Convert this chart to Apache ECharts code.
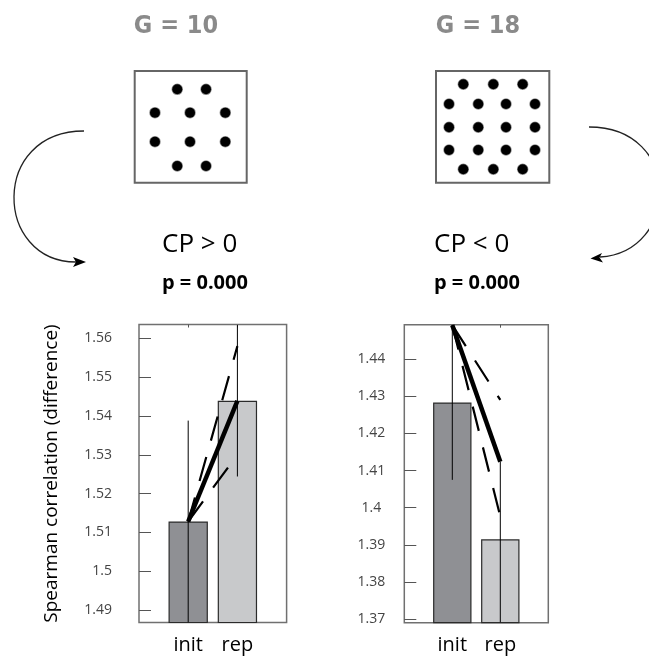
<!DOCTYPE html>
<html>
<head>
<meta charset="utf-8">
<script src="https://cdn.jsdelivr.net/npm/echarts@6/dist/echarts.min.js"></script>
<style>
html,body{margin:0;padding:0;background:#fff;}
#chart{width:649px;height:662px;}
</style>
</head>
<body>
<div id="chart"></div>
<script>
// ---- data ----
const categories = ['init', 'rep'];
const leftTicks = [1.49, 1.50, 1.51, 1.52, 1.53, 1.54, 1.55, 1.56];
const rightTicks = [1.37, 1.38, 1.39, 1.40, 1.41, 1.42, 1.43, 1.44];

const leftBars = [1.5128, 1.5439];
const leftErrLow = [1.4868, 1.5244];
const leftErrHigh = [1.5388, 1.5634];
const leftMeanLine = [1.5128, 1.5439];
const leftDashUpper = [1.5128, 1.5580];
const leftDashLower = [1.5128, 1.5300];

const rightBars = [1.4283, 1.3915];
const rightErrLow = [1.4075, 1.3692];
const rightErrHigh = [1.4491, 1.4124];
const rightMeanLine = [1.4491, 1.4124];
const rightDashUpper = [1.4491, 1.4290];
const rightDashLower = [1.4491, 1.3976];

// dot layouts inside the two stimulus boxes (fraction of box, y from bottom)
const g10DotsX = [0.380, 0.637, 0.181, 0.494, 0.809, 0.181, 0.494, 0.809, 0.380, 0.637];
const g10DotsY = [0.836, 0.836, 0.627, 0.627, 0.627, 0.367, 0.367, 0.367, 0.150, 0.150];
const g18DotsX = [0.241, 0.506, 0.765, 0.115, 0.373, 0.618, 0.874, 0.115, 0.373, 0.618, 0.874, 0.115, 0.373, 0.618, 0.874, 0.241, 0.506, 0.765];
const g18DotsY = [0.881, 0.881, 0.881, 0.705, 0.705, 0.705, 0.705, 0.496, 0.496, 0.496, 0.496, 0.293, 0.293, 0.293, 0.293, 0.120, 0.120, 0.120];

// ---- styles ----
const barColors = ['#8f9094', '#c8c9cb'];
const sans = "'Open Sans', 'Liberation Sans', sans-serif";

function pts(vals) { return vals.map((v, i) => [i + 1, v]); }
function errData(lo, hi) { return lo.map((v, i) => [i + 1, v, hi[i]]); }

const chart = echarts.init(document.getElementById('chart'), null, {renderer: 'canvas'});

function valueYAxis(gridIndex, min, max, ticks, align, margin, name) {
  return {
    type: 'value', gridIndex, min, max,
    axisLine: {show: false},
    splitLine: {show: false},
    axisTick: {show: true, inside: true, length: 12, customValues: ticks, lineStyle: {color: '#555', width: 1}},
    axisLabel: {customValues: ticks, color: '#444', fontSize: 14, fontFamily: sans, margin, align,
      formatter: v => String(Math.round(v * 100) / 100)},
    name: name || '',
    nameLocation: 'middle', nameRotate: 90, nameGap: 78,
    nameTextStyle: {color: '#000', fontSize: 19, fontFamily: sans}
  };
}
function catXAxis(gridIndex, position, showLabel) {
  return {
    type: 'value', gridIndex, min: 0, max: 3, position,
    axisLine: {show: false}, splitLine: {show: false},
    axisTick: {show: true, inside: true, length: 3, customValues: [1, 2], lineStyle: {color: '#555'}},
    axisLabel: {show: showLabel, customValues: [1, 2], color: '#000', fontSize: 20, fontFamily: sans, margin: 13,
      formatter: v => categories[Math.round(v) - 1] || ''}
  };
}
function hiddenAxis(gridIndex) {
  return {type: 'value', gridIndex, min: 0, max: 1, show: false};
}

function panelSeries(axisIdx, bars, lo, hi, mean, dUp, dLo) {
  const base = {xAxisIndex: axisIdx, yAxisIndex: axisIdx};
  return [
    Object.assign({
      type: 'bar', barWidth: '80%', silent: true,
      data: bars.map((v, i) => ({value: [i + 1, v], itemStyle: {color: barColors[i]}})),
      itemStyle: {borderColor: '#2b2b2b', borderWidth: 1.2},
      z: 2
    }, base),
    Object.assign({
      type: 'custom', clip: true, z: 3, silent: true,
      data: errData(lo, hi),
      renderItem: (params, api) => {
        const x = api.value(0);
        const p1 = api.coord([x, api.value(1)]);
        const p2 = api.coord([x, api.value(2)]);
        return {type: 'line', shape: {x1: p1[0], y1: p1[1], x2: p2[0], y2: p2[1]},
          style: {stroke: '#000', lineWidth: 1}};
      }
    }, base),
    Object.assign({
      type: 'line', data: pts(dUp), showSymbol: false, silent: true, z: 4,
      lineStyle: {color: '#000', width: 2.2, type: [25, 17]}
    }, base),
    Object.assign({
      type: 'line', data: pts(dLo), showSymbol: false, silent: true, z: 4,
      lineStyle: {color: '#000', width: 2.2, type: [25, 17]}
    }, base),
    Object.assign({
      type: 'line', data: pts(mean), showSymbol: false, silent: true, z: 5,
      lineStyle: {color: '#000', width: 4.5}
    }, base)
  ];
}

const option = {
  backgroundColor: '#fff',
  animation: false,
  grid: [
    {left: 139, top: 324.5, width: 147.6, height: 298, show: true, borderColor: '#707070', borderWidth: 1.5, backgroundColor: 'transparent'},
    {left: 404.3, top: 324.7, width: 144, height: 298, show: true, borderColor: '#707070', borderWidth: 1.5, backgroundColor: 'transparent'},
    {left: 134.7, top: 71, width: 112, height: 111.7, show: true, borderColor: '#666', borderWidth: 2},
    {left: 436, top: 71, width: 113.3, height: 111.7, show: true, borderColor: '#666', borderWidth: 2}
  ],
  xAxis: [
    catXAxis(0, 'bottom', true),
    catXAxis(1, 'bottom', true),
    hiddenAxis(2),
    hiddenAxis(3),
    catXAxis(0, 'top', false),
    catXAxis(1, 'top', false)
  ],
  yAxis: [
    valueYAxis(0, 1.48678, 1.56356, leftTicks, 'right', 27, 'Spearman correlation (difference)'),
    valueYAxis(1, 1.36909, 1.44922, rightTicks, 'center', 33, ''),
    hiddenAxis(2),
    hiddenAxis(3)
  ],
  series: [
    ...panelSeries(0, leftBars, leftErrLow, leftErrHigh, leftMeanLine, leftDashUpper, leftDashLower),
    ...panelSeries(1, rightBars, rightErrLow, rightErrHigh, rightMeanLine, rightDashUpper, rightDashLower),
    {type: 'scatter', xAxisIndex: 2, yAxisIndex: 2, symbolSize: 10, silent: true,
      data: g10DotsX.map((x, i) => [x, g10DotsY[i]]),
      itemStyle: {color: '#000', borderColor: 'rgba(0,0,0,0.45)', borderWidth: 1.5, opacity: 1}},
    {type: 'scatter', xAxisIndex: 3, yAxisIndex: 3, symbolSize: 10, silent: true,
      data: g18DotsX.map((x, i) => [x, g18DotsY[i]]),
      itemStyle: {color: '#000', borderColor: 'rgba(0,0,0,0.45)', borderWidth: 1.5, opacity: 1}}
  ],
  graphic: [
    {type: 'text', x: 176, y: 26, style: {text: 'G = 10', fill: '#8a8a8a', font: "bold 25px 'DejaVu Sans Condensed', 'DejaVu Sans', sans-serif", textAlign: 'center', textVerticalAlign: 'middle'}},
    {type: 'text', x: 478, y: 26, style: {text: 'G = 18', fill: '#8a8a8a', font: "bold 25px 'DejaVu Sans Condensed', 'DejaVu Sans', sans-serif", textAlign: 'center', textVerticalAlign: 'middle'}},
    {type: 'text', x: 162, y: 245, style: {text: 'CP > 0', fill: '#000', font: "26px 'Open Sans', sans-serif", textAlign: 'left', textVerticalAlign: 'middle'}},
    {type: 'text', x: 162, y: 283, style: {text: 'p = 0.000', fill: '#000', font: "bold 20px 'Open Sans', sans-serif", textAlign: 'left', textVerticalAlign: 'middle'}},
    {type: 'text', x: 434, y: 245, style: {text: 'CP < 0', fill: '#000', font: "26px 'Open Sans', sans-serif", textAlign: 'left', textVerticalAlign: 'middle'}},
    {type: 'text', x: 434, y: 283, style: {text: 'p = 0.000', fill: '#000', font: "bold 20px 'Open Sans', sans-serif", textAlign: 'left', textVerticalAlign: 'middle'}},
    {type: 'bezierCurve', shape: {x1: 84, y1: 131, cpx1: -10, cpy1: 131, cpx2: -6, cpy2: 262, x2: 76, y2: 262}, style: {stroke: '#222', lineWidth: 1.3, fill: null}},
    {type: 'polygon', shape: {points: [[86, 262], [73, 257], [76, 262], [73, 267]]}, style: {fill: '#000'}},
    {type: 'bezierCurve', shape: {x1: 589, y1: 127, cpx1: 683, cpy1: 127, cpx2: 680, cpy2: 252, x2: 600, y2: 257}, style: {stroke: '#222', lineWidth: 1.3, fill: null}},
    {type: 'polygon', shape: {points: [[590.5, 258.5], [602, 253], [599.5, 257.5], [603, 262.5]]}, style: {fill: '#000'}}
  ]
};
chart.setOption(option);
</script>
</body>
</html>
